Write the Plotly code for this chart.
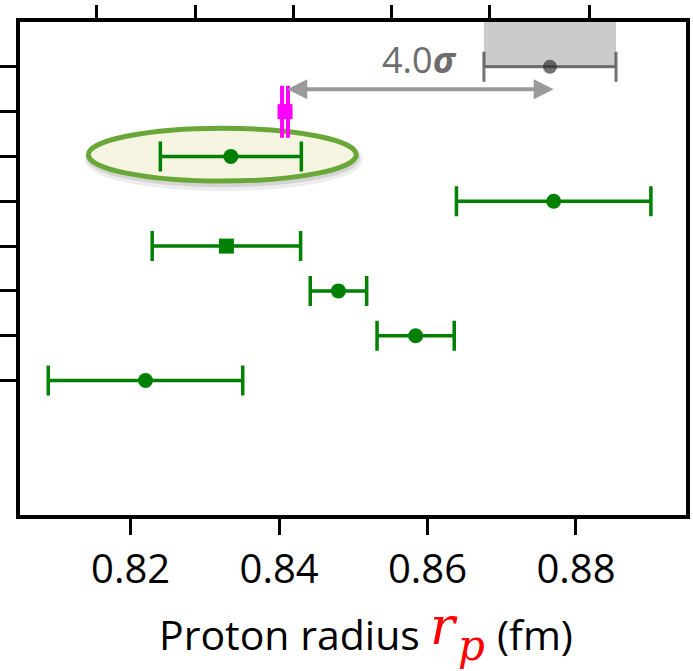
import plotly.graph_objects as go

# ---------------- data ----------------
codata_row, codata_val, codata_err = 1, 0.8765, 0.0089      # grey reference value
muh_row, muh_val, muh_err = 2, 0.8408, 0.0004               # magenta (muonic H)
circ_rows = [3, 4, 6, 7, 8]
circ_vals = [0.8335, 0.8770, 0.8480, 0.8584, 0.8220]
circ_errs = [0.0095, 0.0131, 0.0038, 0.0052, 0.0131]
sq_rows = [5]
sq_vals = [0.8329]
sq_errs = [0.0100]
highlight_index = 0                                           # circled point (row 3)

x_tickvals = [0.82, 0.84, 0.86, 0.88]
x_ticktext = ["0.82", "0.84", "0.86", "0.88"]
top_tickvals = [0.8154, 0.8287, 0.8419, 0.8552, 0.8684, 0.8818]
y_tickvals = [1, 2, 3, 4, 5, 6, 7, 8]
sigma_text = "4.0"

X_RANGE = [0.80509, 0.89483]
Y_RANGE = [11, 0]

GREEN = "#008000"
GREY_PT = "rgba(40,40,40,0.65)"

fig = go.Figure()

# grey reference value
fig.add_trace(go.Scatter(
    x=[codata_val], y=[codata_row], mode="markers",
    marker=dict(color=GREY_PT, size=14, symbol="circle"),
    error_x=dict(type="data", array=[codata_err], color=GREY_PT, thickness=3, width=15),
    showlegend=False, hoverinfo="skip"))

# magenta muonic hydrogen
fig.add_trace(go.Scatter(
    x=[muh_val], y=[muh_row], mode="markers",
    marker=dict(color="#ff00ff", size=15, symbol="square"),
    error_x=dict(type="data", array=[muh_err], color="#ff00ff", thickness=4, width=26),
    showlegend=False, hoverinfo="skip"))

# green circles
fig.add_trace(go.Scatter(
    x=circ_vals, y=circ_rows, mode="markers",
    marker=dict(color=GREEN, size=15, symbol="circle"),
    error_x=dict(type="data", array=circ_errs, color=GREEN, thickness=3.5, width=15),
    showlegend=False, hoverinfo="skip"))

# green square
fig.add_trace(go.Scatter(
    x=sq_vals, y=sq_rows, mode="markers",
    marker=dict(color=GREEN, size=15, symbol="square"),
    error_x=dict(type="data", array=sq_errs, color=GREEN, thickness=3.5, width=15),
    showlegend=False, hoverinfo="skip"))

# invisible trace to activate top axis
fig.add_trace(go.Scatter(
    x=[codata_val], y=[codata_row], xaxis="x2", mode="markers",
    marker=dict(opacity=0), showlegend=False, hoverinfo="skip"))

# ---------------- shapes ----------------
hv = circ_vals[highlight_index]
he = circ_errs[highlight_index]
hr = circ_rows[highlight_index]
ex0, ex1 = hv - he - 0.0097, hv + he + 0.0074
ey0, ey1 = hr - 0.63, hr + 0.55

shapes = [
    # grey band for reference value
    dict(type="rect", xref="x", yref="y", x0=codata_val - codata_err, x1=codata_val + codata_err,
         y0=0, y1=codata_row, fillcolor="#cbcbcb", line=dict(width=0), layer="below"),
    # soft shadow of the ellipse
    dict(type="circle", xref="x", yref="y", x0=ex0 + 0.0002, x1=ex1 + 0.0002, y0=ey0 + 0.1, y1=ey1 + 0.11,
         fillcolor="rgba(0,0,0,0)", line=dict(color="rgba(0,0,0,0.07)", width=10), layer="below"),
    dict(type="circle", xref="x", yref="y", x0=ex0 + 0.0001, x1=ex1 + 0.0001, y0=ey0 + 0.06, y1=ey1 + 0.07,
         fillcolor="rgba(0,0,0,0)", line=dict(color="rgba(0,0,0,0.10)", width=6), layer="below"),
    # highlight ellipse
    dict(type="circle", xref="x", yref="y", x0=ex0, x1=ex1, y0=ey0, y1=ey1,
         fillcolor="#f5f5e1", line=dict(color="#6aa739", width=5), layer="below"),
]

# ---------------- annotations ----------------
def px_x(p):
    return (p - 20) / 670.0

def px_y(p):
    return (515.5 - p) / 493.5

annotations = [
    # double arrow
    dict(x=codata_val + 0.0005, y=1.5, ax=muh_val + 0.0001, ay=1.5,
         xref="x", yref="y", axref="x", ayref="y", text="", showarrow=True,
         arrowhead=2, startarrowhead=2, arrowside="end+start",
         arrowwidth=4, arrowsize=1, startarrowsize=1, arrowcolor="#9a9a9a"),
    # sigma label
    dict(x=(muh_val + codata_val) / 2, y=1.5, xref="x", yref="y", yanchor="middle",
         yshift=30, xshift=2, showarrow=False,
         text=sigma_text + "<b><i>σ</i></b>",
         font=dict(family="Open Sans", size=36, color="#6d6d6d")),
    # axis title pieces
    dict(x=px_x(158), y=px_y(635), xref="paper", yref="paper", xanchor="left", yanchor="middle",
         showarrow=False, text="Proton radius",
         font=dict(family="Open Sans", size=41, color="black")),
    dict(x=px_x(430), y=px_y(627), xref="paper", yref="paper", xanchor="left", yanchor="middle",
         showarrow=False, text="<i>r</i>",
         font=dict(family="DejaVu Serif", size=52, color="red")),
    dict(x=px_x(459), y=px_y(646), xref="paper", yref="paper", xanchor="left", yanchor="middle",
         showarrow=False, text="<i>p</i>",
         font=dict(family="DejaVu Serif", size=42, color="red")),
    dict(x=px_x(498), y=px_y(635), xref="paper", yref="paper", xanchor="left", yanchor="middle",
         showarrow=False, text="(fm)",
         font=dict(family="Open Sans", size=41, color="black")),
]

fig.update_layout(
    width=693, height=671,
    margin=dict(l=20, r=3, t=22, b=155.5, pad=0),
    paper_bgcolor="white", plot_bgcolor="white",
    shapes=shapes, annotations=annotations,
    xaxis=dict(range=X_RANGE, tickvals=x_tickvals, ticktext=x_ticktext,
               ticks="outside", ticklen=16, tickwidth=3, tickcolor="black",
               showline=True, linewidth=4, linecolor="black", mirror=True,
               showgrid=False, zeroline=False,
               tickfont=dict(family="Open Sans", size=40, color="black")),
    xaxis2=dict(range=X_RANGE, overlaying="x", side="top", tickvals=top_tickvals,
                ticks="outside", ticklen=16, tickwidth=3, tickcolor="black",
                showticklabels=False, showline=False, showgrid=False, zeroline=False),
    yaxis=dict(range=Y_RANGE, tickvals=y_tickvals, showticklabels=False,
               ticks="outside", ticklen=16, tickwidth=3, tickcolor="black",
               showline=True, linewidth=4, linecolor="black", mirror=True,
               showgrid=False, zeroline=False),
)

fig.write_html("out.html")
